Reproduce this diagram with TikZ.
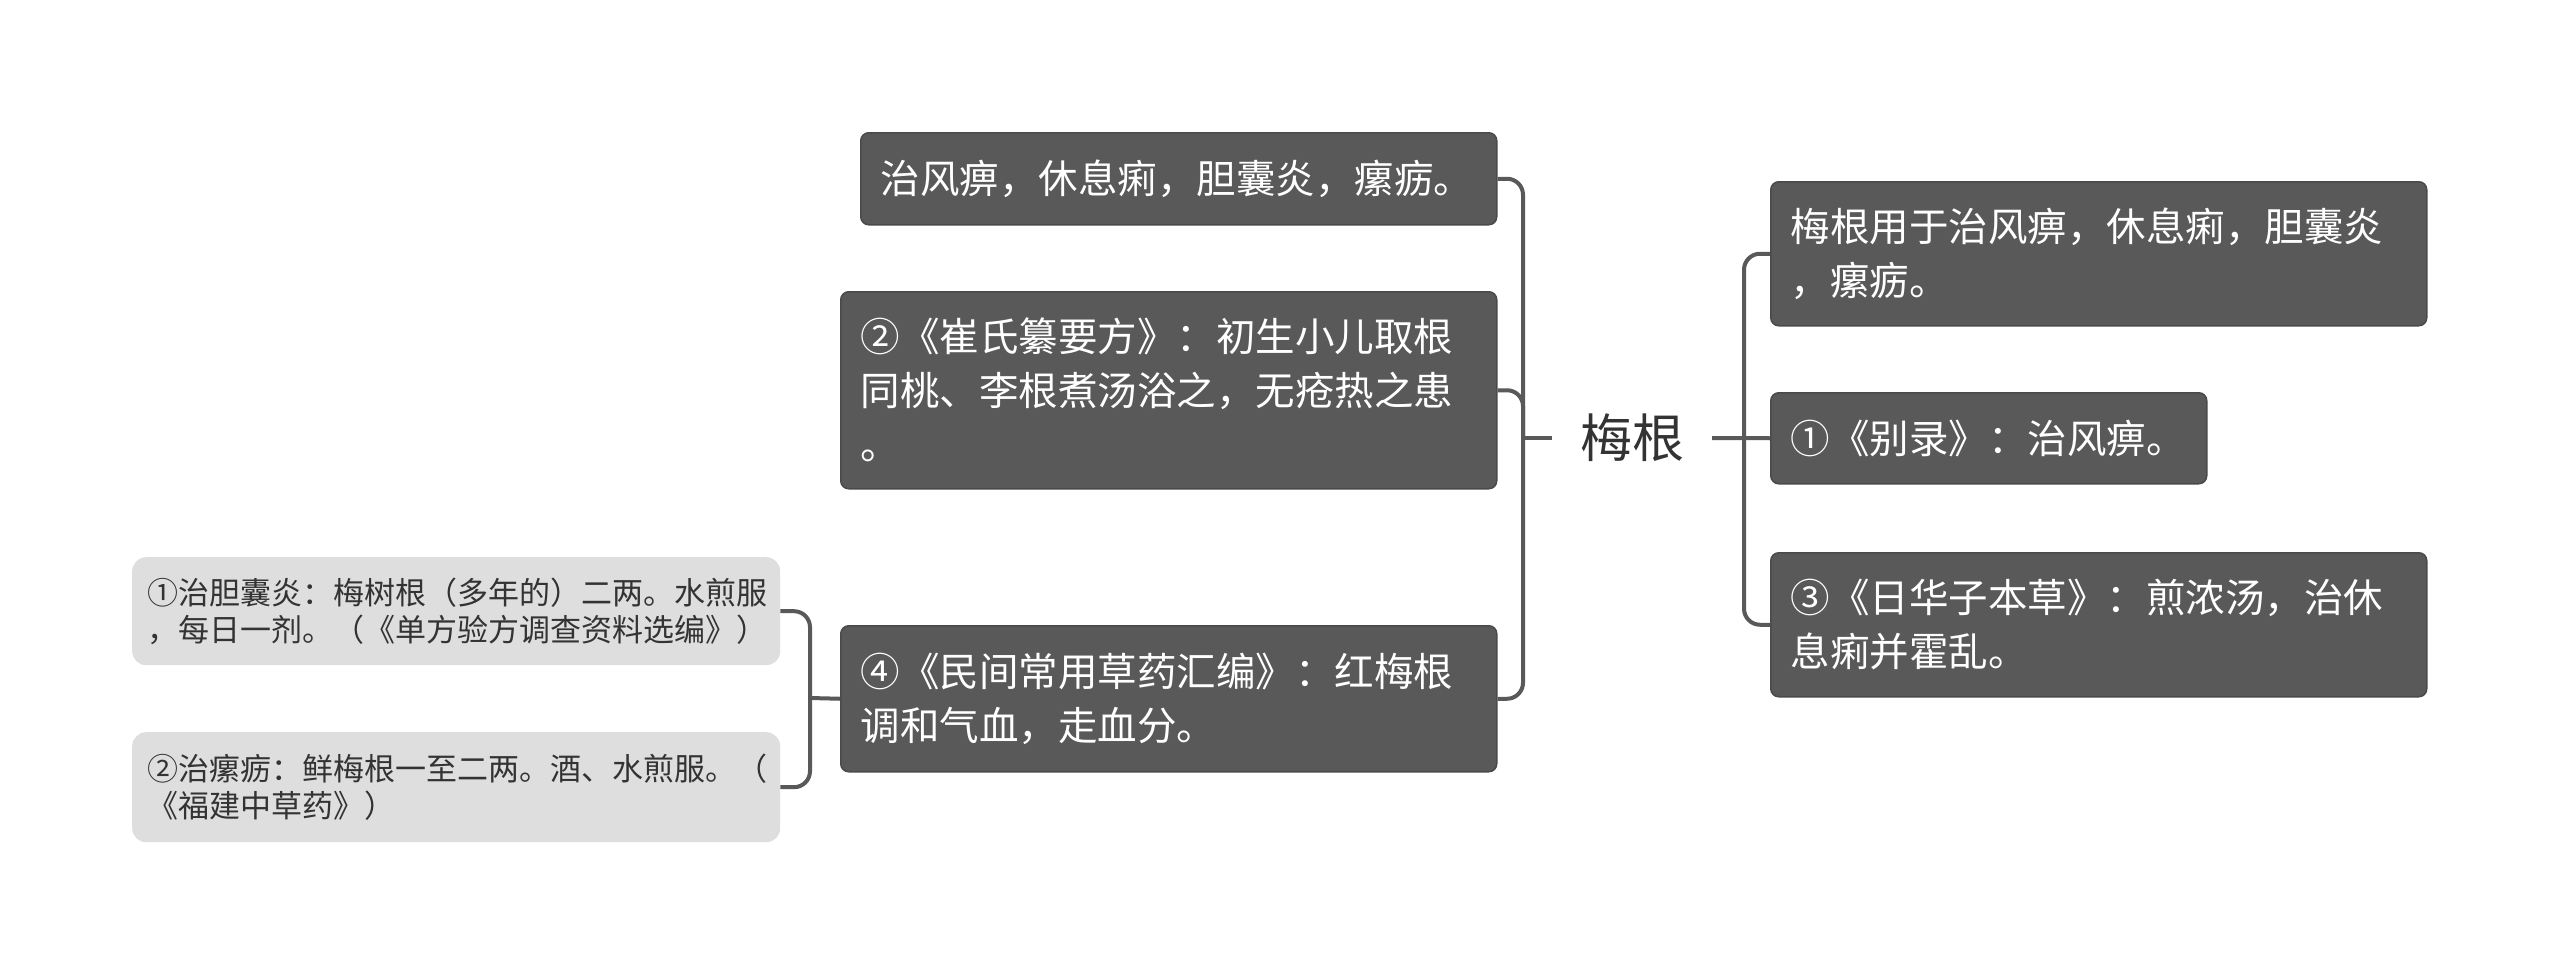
\documentclass[tikz,border=0pt]{standalone}
\usepackage{fontspec}
\newfontfamily\cjk{Noto Sans CJK SC}
\usetikzlibrary{positioning}
\definecolor{boxgray}{HTML}{595959}
\definecolor{rimgray}{HTML}{4A4A4A}
\definecolor{palegray}{HTML}{DEDEDE}
\definecolor{inkgray}{HTML}{333333}
\definecolor{wiregray}{HTML}{595959}
\tikzset{
  darkbox/.style={rectangle, rounded corners=8pt, fill=boxgray, draw=rimgray, line width=1.5pt,
                  text=white, align=left, inner xsep=20pt, inner ysep=0pt, anchor=north west,
                  font=\cjk\fontsize{39.5pt}{54pt}\selectfont},
  palebox/.style={rectangle, rounded corners=14pt, fill=palegray, draw=none,
                  text=inkgray, align=left, inner xsep=15pt, inner ysep=0pt, anchor=north west,
                  text width=618pt, font=\cjk\fontsize{31pt}{37pt}\selectfont},
  rootlbl/.style={font=\cjk\fontsize{52pt}{60pt}\selectfont, text=inkgray, inner xsep=28pt},
  link/.style={draw=wiregray, line width=4pt, rounded corners=16pt}
}
\begin{document}
\begin{tikzpicture}[x=1pt, y=-1pt]
  \useasboundingbox[fill=white] (0,0) rectangle (2560,975);
  \node[rootlbl] (root) at (1632,438) {梅根};
  % left side
  \node[darkbox, text width=596pt, minimum height=92pt] (useA) at (860,132) {治风痹，休息痢，胆囊炎，瘰疬。};
  \node[darkbox, text width=616pt, minimum height=197pt] (cuiB) at (840,291)
    {②《崔氏纂要方》：初生小儿取根\\同桃、李根煮汤浴之，无疮热之患\\。};
  \node[darkbox, text width=616pt, minimum height=146pt] (minC) at (840,625)
    {④《民间常用草药汇编》：红梅根\\调和气血，走血分。};
  \node[palebox, minimum height=108pt] (danG) at (132,557)
    {①治胆囊炎：梅树根（多年的）二两。水煎服\\，每日一剂。（《单方验方调查资料选编》）};
  \node[palebox, minimum height=110pt] (luoH) at (132,732)
    {②治瘰疬：鲜梅根一至二两。酒、水煎服。（\\《福建中草药》）};
  % right side
  \node[darkbox, text width=616pt, minimum height=144pt] (yongD) at (1770,181)
    {梅根用于治风痹，休息痢，胆囊炎\\，瘰疬。};
  \node[darkbox, text width=396pt, minimum height=91pt] (bieE) at (1770,392) {①《别录》：治风痹。};
  \node[darkbox, text width=616pt, minimum height=144pt] (rihF) at (1770,552)
    {③《日华子本草》：煎浓汤，治休\\息痢并霍乱。};
  \coordinate (lj) at (1523,438);
  \coordinate (rj) at (1744,438);
  \coordinate (cj) at (810,698);
  \draw[link] (useA.east) -| (lj) |- (minC.east);
  \draw[link] (cuiB.east) -| (lj);
  \draw[link] (lj) -- (root.west);
  \draw[link] (yongD.west) -| (rj) |- (rihF.west);
  \draw[link] (root.east) -- (rj) -- (bieE.west);
  \draw[link] (danG.east) -| (cj) |- (luoH.east);
  \draw[link] (cj) -- (minC.west);
\end{tikzpicture}
\end{document}
